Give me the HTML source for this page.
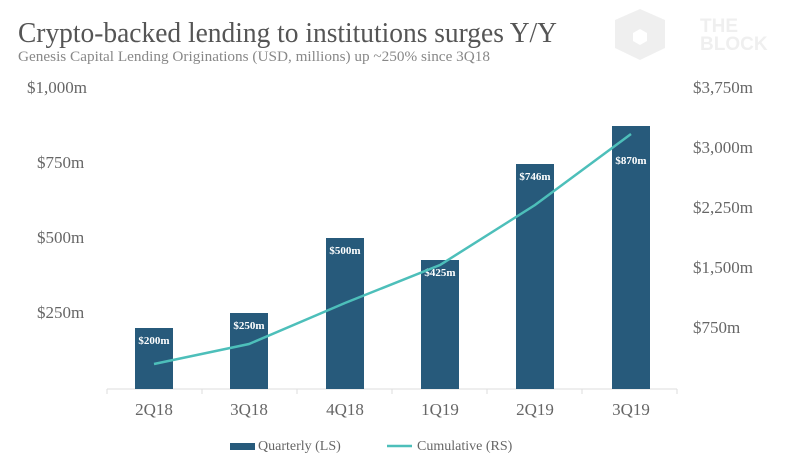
<!DOCTYPE html><html><head><style>body{margin:0;background:#fff}svg{display:block}text{font-family:"Liberation Serif",serif}</style></head><body>
<svg width="800" height="465" viewBox="0 0 800 465">
<text x="18" y="42" font-size="28" fill="#555" textLength="539" lengthAdjust="spacingAndGlyphs">Crypto-backed lending to institutions surges Y/Y</text>
<text x="18" y="61" font-size="15" fill="#888" textLength="472" lengthAdjust="spacingAndGlyphs">Genesis Capital Lending Originations (USD, millions) up ~250% since 3Q18</text>
<g opacity="0.9">
<polygon points="640,9 665,20 665,48 640,60 615,48 615,20" fill="#eee"/>
<polygon points="640,29 647,33 647,41 640,45 633,41 633,33" fill="#fff"/>
<text x="700" y="32" font-size="19" font-weight="bold" fill="#eee" style="font-family:'Liberation Sans',sans-serif">THE</text>
<text x="700" y="50" font-size="19" font-weight="bold" fill="#eee" style="font-family:'Liberation Sans',sans-serif">BLOCK</text>
</g>
<g font-size="17" fill="#666">
<text x="27" y="93">$1,000m</text><text x="37" y="168">$750m</text><text x="37" y="243">$500m</text><text x="37" y="318">$250m</text>
<text x="693" y="93">$3,750m</text><text x="693" y="153">$3,000m</text><text x="693" y="213">$2,250m</text><text x="693" y="273">$1,500m</text><text x="693" y="333">$750m</text>
</g>
<line x1="107" y1="389" x2="677" y2="389" stroke="#ddd" stroke-width="1"/>
<g stroke="#ddd"><line x1="107" y1="389" x2="107" y2="394"/><line x1="202" y1="389" x2="202" y2="394"/><line x1="297" y1="389" x2="297" y2="394"/><line x1="392" y1="389" x2="392" y2="394"/><line x1="487" y1="389" x2="487" y2="394"/><line x1="582" y1="389" x2="582" y2="394"/><line x1="677" y1="389" x2="677" y2="394"/></g>
<g fill="#275a7b">
<rect x="135" y="328" width="38" height="61"/><rect x="230" y="313" width="38" height="76"/><rect x="326" y="238" width="38" height="151"/><rect x="421" y="260" width="38" height="129"/><rect x="516" y="164" width="38" height="225"/><rect x="612" y="126" width="38" height="263"/>
</g>
<g font-size="11" font-weight="bold" fill="#fff" text-anchor="middle">
<text x="154" y="344">$200m</text><text x="249" y="329">$250m</text><text x="345" y="254">$500m</text><text x="440" y="276">$425m</text><text x="535" y="180">$746m</text><text x="631" y="164">$870m</text>
</g>
<polyline points="154,364 249,344 345,303 440,265 535,205 631,134" fill="none" stroke="#4dbfba" stroke-width="2.5"/>
<g font-size="17" fill="#666" text-anchor="middle">
<text x="154" y="415">2Q18</text><text x="249" y="415">3Q18</text><text x="345" y="415">4Q18</text><text x="440" y="415">1Q19</text><text x="535" y="415">2Q19</text><text x="631" y="415">3Q19</text>
</g>
<rect x="230" y="443" width="25" height="7" fill="#275a7b"/>
<text x="258" y="450" font-size="14" fill="#666">Quarterly (LS)</text>
<line x1="387" y1="446" x2="412" y2="446" stroke="#4dbfba" stroke-width="2.5"/>
<text x="417" y="450" font-size="14" fill="#666">Cumulative (RS)</text>
</svg></body></html>
